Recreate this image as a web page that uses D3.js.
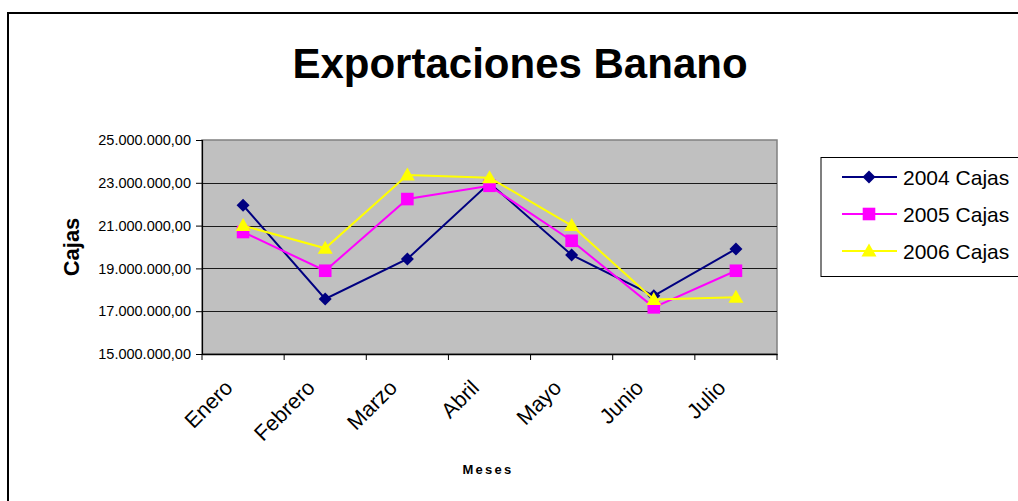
<!DOCTYPE html>
<html>
<head>
<meta charset="utf-8">
<script src="https://cdn.jsdelivr.net/npm/d3@7"></script>
<style>
  html, body { margin: 0; padding: 0; background: #fff; }
  svg { display: block; font-family: "Liberation Sans", Arial, sans-serif; }
</style>
</head>
<body>
<svg id="chart" width="1018" height="501"></svg>
<script>
const months = ["Enero", "Febrero", "Marzo", "Abril", "Mayo", "Junio", "Julio"];
const cajas2004 = [21950000, 17570000, 19440000, 22990000, 19630000, 17720000, 19910000];
const cajas2005 = [20700000, 18890000, 22240000, 22860000, 20290000, 17180000, 18890000];
const cajas2006 = [21000000, 19940000, 23360000, 23240000, 21000000, 17550000, 17650000];
const yTicks = [15000000, 17000000, 19000000, 21000000, 23000000, 25000000];
const seriesNames = ["2004 Cajas", "2005 Cajas", "2006 Cajas"];

const series = [
  { name: seriesNames[0], values: cajas2004, color: "#000080", marker: "diamond" },
  { name: seriesNames[1], values: cajas2005, color: "#ff00ff", marker: "square" },
  { name: seriesNames[2], values: cajas2006, color: "#ffff00", marker: "triangle" }
];

const svg = d3.select("#chart");
const pL = 202, pR = 777, pT = 140, pB = 354;

// outer chart border
svg.append("rect").attr("x", 8).attr("y", 13).attr("width", 1030).attr("height", 520)
  .attr("fill", "#fff").attr("stroke", "#000").attr("stroke-width", 2);

const x = d3.scaleBand().domain(months).range([pL, pR]).padding(0);
const y = d3.scaleLinear().domain([15000000, 25000000]).range([pB, pT]);

const locale = d3.formatLocale({ decimal: ",", thousands: ".", grouping: [3], currency: ["", ""] });
const fmt = locale.format(",.2f");

// plot area
svg.append("rect").attr("x", pL).attr("y", pT).attr("width", pR - pL).attr("height", pB - pT)
  .attr("fill", "#c0c0c0").attr("stroke", "#808080").attr("stroke-width", 1.5);

// gridlines
svg.append("g").selectAll("line").data(yTicks.slice(1, -1)).join("line")
  .attr("x1", pL).attr("x2", pR)
  .attr("y1", d => Math.round(y(d)) + 0.5).attr("y2", d => Math.round(y(d)) + 0.5)
  .attr("stroke", "#1a1a1a").attr("stroke-width", 1);

// y axis
const yAxis = svg.append("g").attr("transform", `translate(${pL},0)`)
  .call(d3.axisLeft(y).tickValues(yTicks).tickFormat(fmt).tickSize(6).tickPadding(5));
yAxis.select(".domain").attr("stroke", "#000").attr("stroke-width", 1.2);
yAxis.selectAll(".tick line").attr("stroke", "#000");
yAxis.selectAll(".tick text").attr("font-size", "14.5px").attr("fill", "#000")
  .attr("font-family", "'Liberation Sans', Arial, sans-serif");

// x axis
const xAxis = svg.append("g").attr("transform", `translate(0,${pB})`)
  .call(d3.axisBottom(x).tickSize(0).tickFormat(""));
xAxis.select(".domain").attr("stroke", "#000").attr("stroke-width", 1.5);
const boundaries = months.map(m => x(m)).concat([x(months[months.length - 1]) + x.bandwidth()]);
svg.append("g").selectAll("line").data(boundaries).join("line")
  .attr("x1", d => d).attr("x2", d => d).attr("y1", pB).attr("y2", pB + 6)
  .attr("stroke", "#000").attr("stroke-width", 1);

svg.append("g").selectAll("text").data(months).join("text")
  .attr("transform", d => `translate(${x(d) + x.bandwidth() / 2 - 9},${pB + 35}) rotate(-45)`)
  .attr("text-anchor", "end")
  .attr("font-size", "21.5px")
  .text(d => d);

// titles
svg.append("text").attr("x", 520).attr("y", 78).attr("text-anchor", "middle")
  .attr("font-size", "42px").attr("font-weight", "bold").text("Exportaciones Banano");

svg.append("text").attr("transform", "translate(79,247) rotate(-90)")
  .attr("text-anchor", "middle").attr("font-size", "22px").attr("font-weight", "bold").text("Cajas");

svg.append("text").attr("x", 488).attr("y", 474).attr("text-anchor", "middle")
  .attr("font-size", "13px").attr("font-weight", "bold").attr("letter-spacing", "2.3px").text("Meses");

// markers
function markerPath(type) {
  if (type === "diamond") return "M0,-6.5L6.5,0L0,6.5L-6.5,0Z";
  if (type === "square") return "M-6.3,-6.3H6.3V6.3H-6.3Z";
  return "M0,-7.5L7.5,5.5H-7.5Z";
}

const line = d3.line().x((d, i) => x(months[i]) + x.bandwidth() / 2).y(d => y(d));

series.forEach(s => {
  const g = svg.append("g");
  g.append("path").attr("d", line(s.values)).attr("fill", "none")
    .attr("stroke", s.color).attr("stroke-width", 2);
  g.selectAll("path.m").data(s.values).join("path").attr("class", "m")
    .attr("transform", (d, i) => `translate(${x(months[i]) + x.bandwidth() / 2},${y(d)})`)
    .attr("d", markerPath(s.marker)).attr("fill", s.color);
});

// legend
const lg = svg.append("g");
lg.append("rect").attr("x", 821).attr("y", 157.5).attr("width", 220).attr("height", 119)
  .attr("fill", "#fff").attr("stroke", "#000").attr("stroke-width", 1);
const rowY = [177, 214, 251];
series.forEach((s, i) => {
  lg.append("line").attr("x1", 842).attr("x2", 897).attr("y1", rowY[i]).attr("y2", rowY[i])
    .attr("stroke", s.color).attr("stroke-width", 2);
  lg.append("path").attr("transform", `translate(869,${rowY[i]})`)
    .attr("d", markerPath(s.marker)).attr("fill", s.color);
  lg.append("text").attr("x", 903).attr("y", rowY[i]).attr("dy", "0.36em")
    .attr("font-size", "21px").text(s.name);
});
</script>
</body>
</html>
